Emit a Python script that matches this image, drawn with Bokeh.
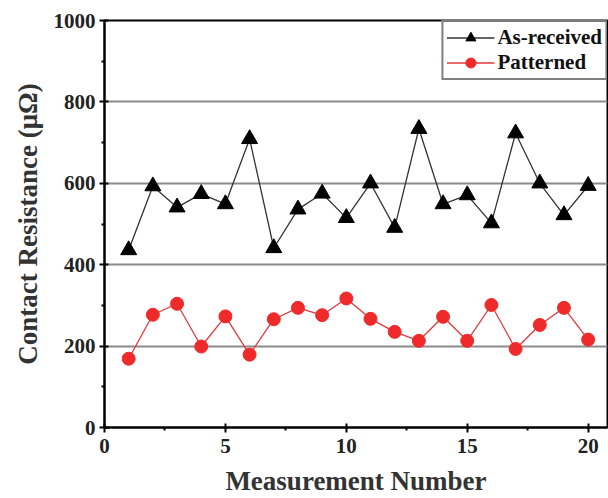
from bokeh.plotting import figure
from bokeh.models import Range1d, Legend, LegendItem, FixedTicker
from bokeh.embed import file_html
from bokeh.resources import INLINE

measurement = list(range(1, 21))
as_received = [436, 593, 541, 574, 549, 709, 441, 536, 575, 515,
               600, 491, 734, 549, 571, 502, 723, 600, 522, 594]
patterned = [169, 277, 304, 199, 273, 179, 266, 294, 276, 317,
             267, 235, 213, 272, 213, 301, 193, 252, 294, 216]
x_ticks = [0, 5, 10, 15, 20]
y_ticks = [0, 200, 400, 600, 800, 1000]

FONT = "Liberation Serif"

p = figure(width=608, height=498, output_backend="svg", toolbar_location=None,
           x_range=Range1d(0, 20.8), y_range=Range1d(0, 1000),
           min_border_left=104, min_border_right=1, min_border_top=20,
           min_border_bottom=70)

p.outline_line_color = "black"
p.outline_line_width = 2
p.outline_line_alpha = 1

p.xgrid.grid_line_color = None
p.ygrid.grid_line_color = "#8a8a8a"
p.ygrid.grid_line_width = 2

p.xaxis.ticker = FixedTicker(ticks=x_ticks, minor_ticks=[2.5, 7.5, 12.5, 17.5])
p.yaxis.ticker = FixedTicker(ticks=y_ticks, minor_ticks=[100, 300, 500, 700, 900])

for ax in (p.xaxis[0], p.yaxis[0]):
    ax.axis_line_width = 2
    ax.axis_line_color = "black"
    ax.major_tick_line_width = 2
    ax.minor_tick_line_width = 2
    ax.major_tick_in = 4
    ax.major_tick_out = 5
    ax.minor_tick_in = 0
    ax.minor_tick_out = 3
    ax.major_label_text_font = FONT
    ax.major_label_text_font_style = "bold"
    ax.major_label_text_font_size = "21px"
    ax.major_label_text_color = "#222222"
    ax.axis_label_text_font = FONT
    ax.axis_label_text_font_style = "bold"
    ax.axis_label_text_font_size = "27px"
    ax.axis_label_text_color = "#333333"

p.xaxis.axis_label = "Measurement Number"
p.yaxis.axis_label = "Contact Resistance (μΩ)"
p.xaxis.axis_label_standoff = 10
p.yaxis.axis_label_standoff = 8
p.xaxis.major_label_standoff = 6
p.yaxis.major_label_standoff = 4

l1 = p.line(measurement, as_received, line_color="#333333", line_width=1.3)
s1 = p.scatter(measurement, as_received, marker="triangle", size=16,
               fill_color="black", line_color="black")
l2 = p.line(measurement, patterned, line_color="#e23a3a", line_width=1.3)
s2 = p.scatter(measurement, patterned, marker="circle", size=13,
               fill_color="#ee2a2a", line_color="#ee2a2a")

legend = Legend(items=[LegendItem(label="As-received", renderers=[l1, s1]),
                       LegendItem(label="Patterned", renderers=[l2, s2])],
                location="top_right")
legend.label_text_font = FONT
legend.label_text_font_style = "bold"
legend.label_text_font_size = "21px"
legend.label_text_color = "#111111"
legend.border_line_color = "black"
legend.border_line_width = 2
legend.margin = 0
legend.padding = 3
legend.spacing = 0
legend.glyph_width = 48
legend.glyph_height = 25
legend.label_standoff = 3
legend.label_height = 25
p.add_layout(legend, "center")

open("out.html", "w").write(file_html(p, INLINE))
